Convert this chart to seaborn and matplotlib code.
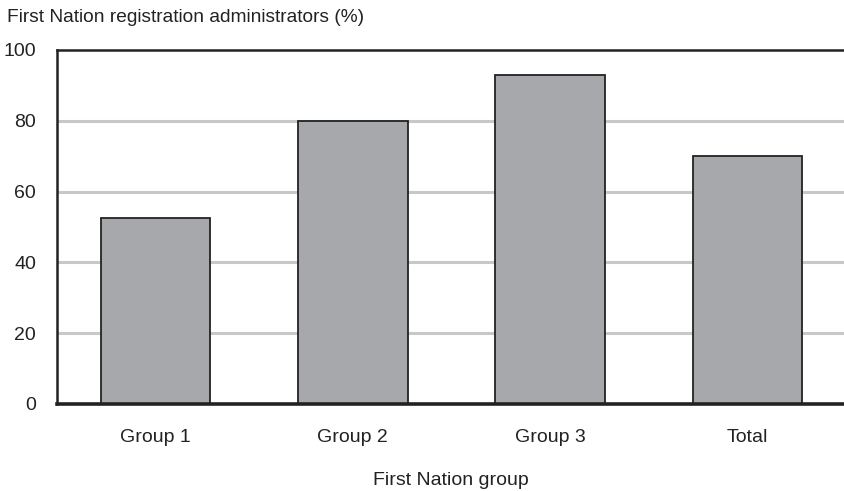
import matplotlib
matplotlib.use("Agg")
import matplotlib.pyplot as plt
import seaborn as sns
import pandas as pd

categories = ["Group 1", "Group 2", "Group 3", "Total"]
values = [52.5, 80, 93, 70]
yticks = [0, 20, 40, 60, 80, 100]
title = "First Nation registration administrators (%)"
xlabel = "First Nation group"

sns.set_theme(style="white")
plt.rcParams['font.family'] = ['Liberation Sans', 'DejaVu Sans']

df = pd.DataFrame({"group": categories, "value": values})

fig = plt.figure(figsize=(8.44, 4.91), dpi=100)
ax = fig.add_axes([57/844, 1-404/491, 1-57/844, (404-50)/491])

for y in yticks[1:-1]:
    ax.axhline(y, color="#c8c8c8", lw=2.2, zorder=0)

sns.barplot(data=df, x="group", y="value", color="#a7a8ab", saturation=1,
            width=0.556, edgecolor="#222222", linewidth=1.3, ax=ax, zorder=2)

ax.set_ylim(0, 100)
ax.set_xlim(-0.5, 3.49)
ax.set_yticks(yticks)
ax.set_yticklabels([str(v) for v in yticks], fontsize=14, color="#222222")
ax.tick_params(axis="y", length=0, pad=15)
ax.tick_params(axis="x", length=0, pad=18, labelsize=14, labelcolor="#222222")
ax.set_xlabel(xlabel, fontsize=14, color="#222222", labelpad=19)
ax.set_ylabel("")

for s in ["left", "top"]:
    ax.spines[s].set_visible(True)
    ax.spines[s].set_color("#222222")
    ax.spines[s].set_linewidth(1.8)
ax.spines["bottom"].set_color("#222222")
ax.spines["bottom"].set_linewidth(2.6)
ax.spines["right"].set_visible(False)

fig.text(7/844, 1-18/491, title, fontsize=13.8, color="#222222", va="center", ha="left")

fig.savefig("out.png", dpi=100)
